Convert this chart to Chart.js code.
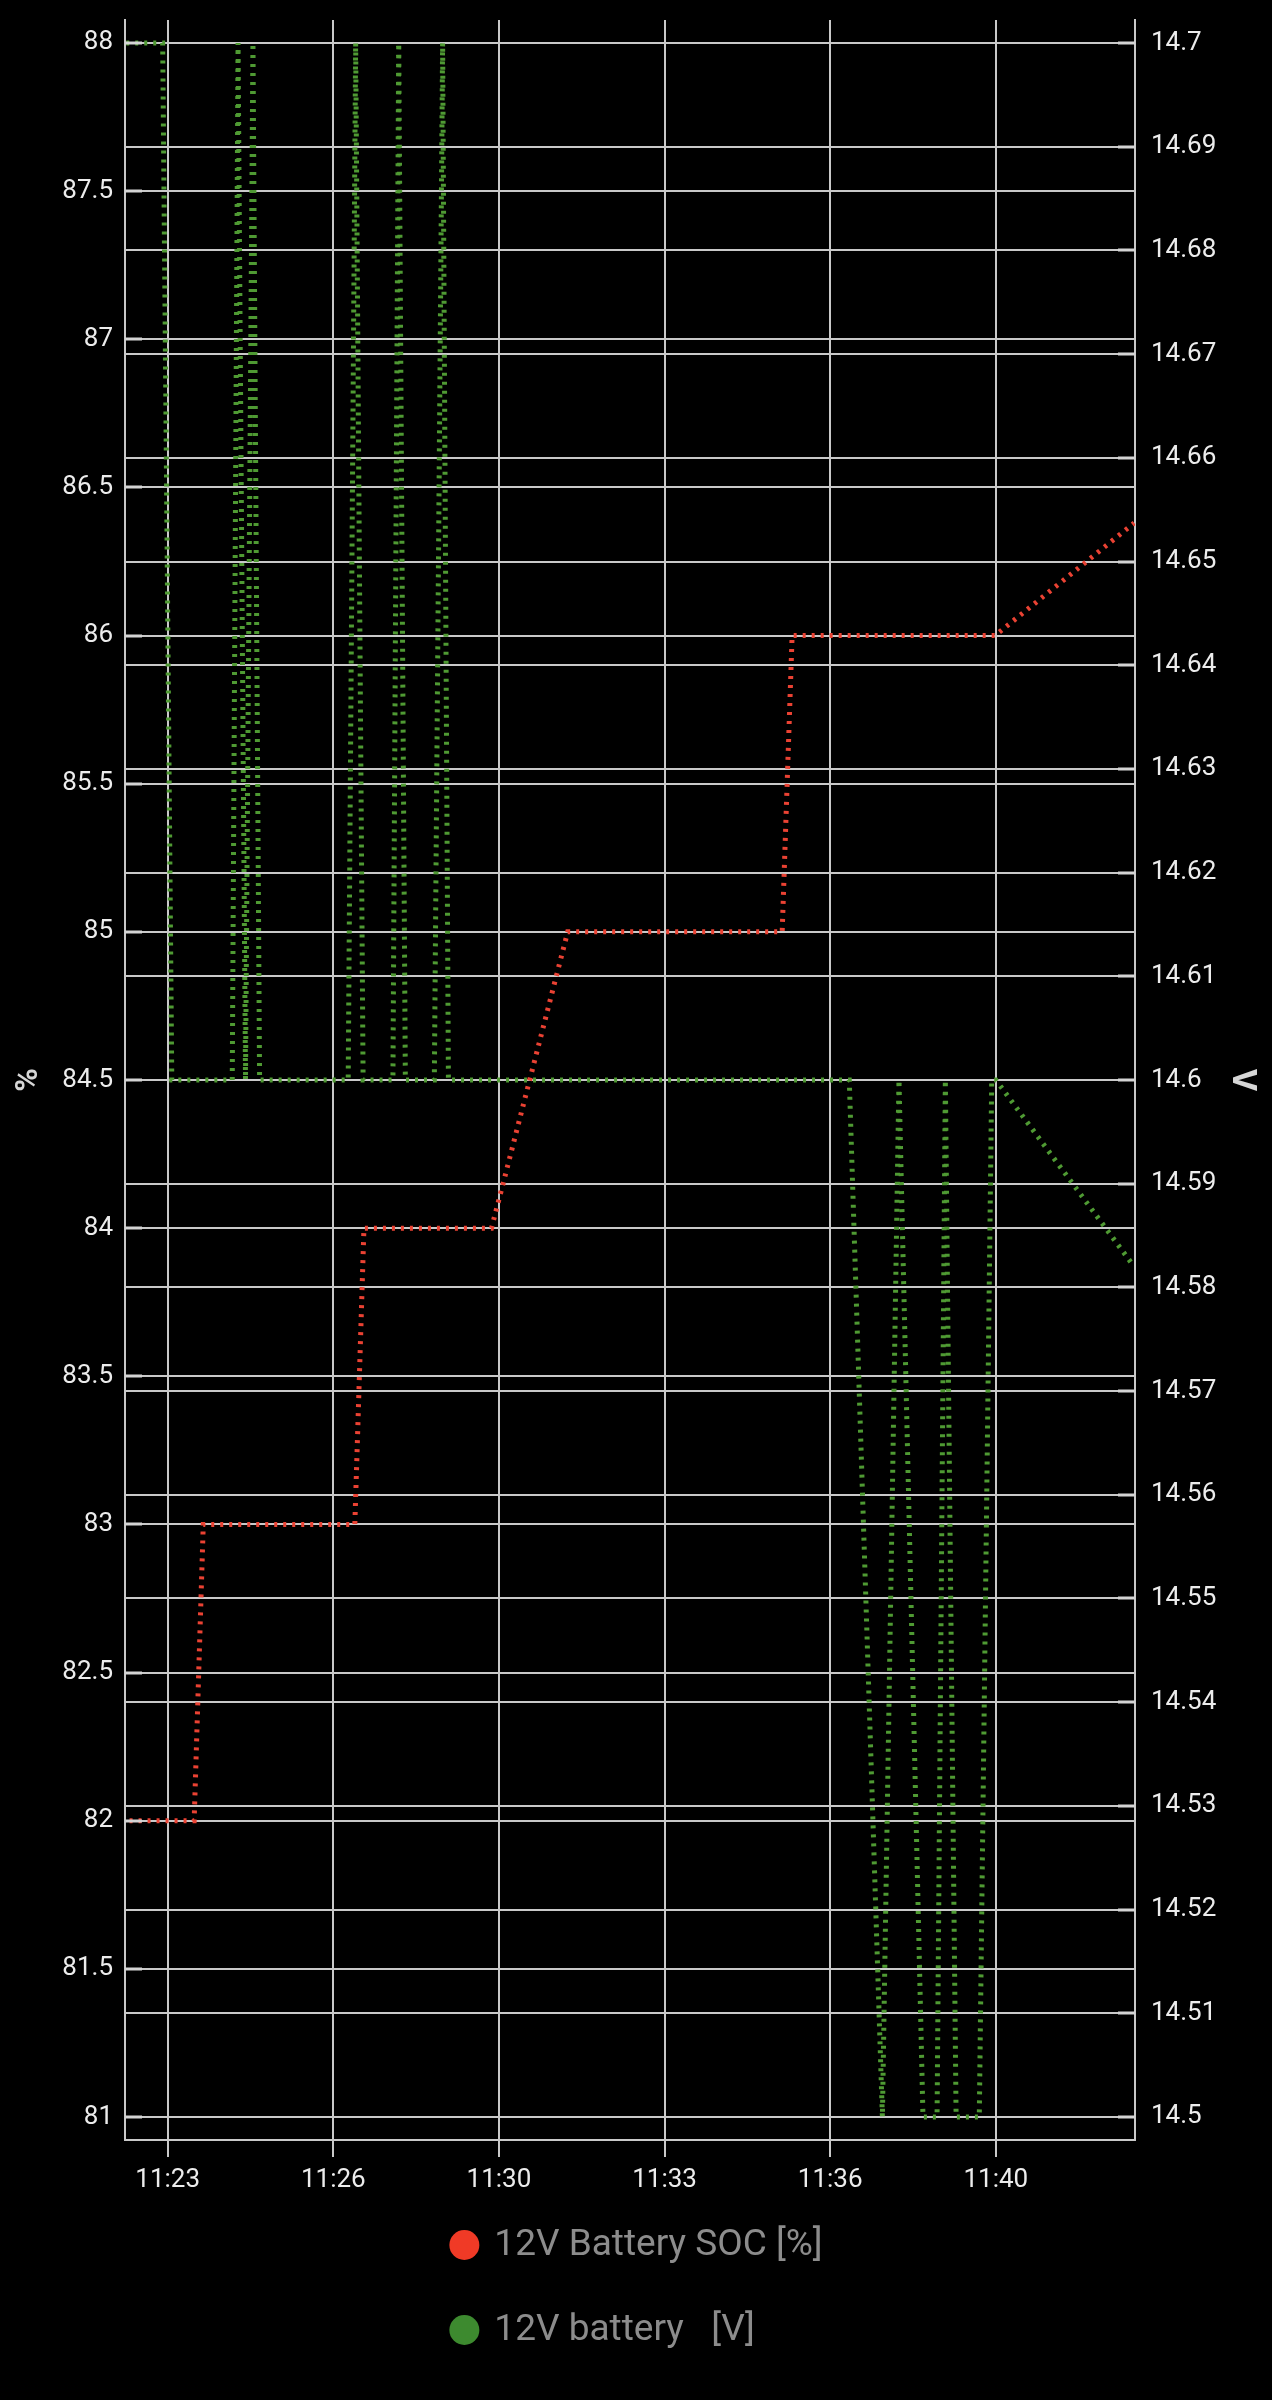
<!DOCTYPE html>
<html>
<head>
<meta charset="utf-8">
<script src="https://cdn.jsdelivr.net/npm/chart.js@4.4.1/dist/chart.umd.min.js"></script>
<style>
  html, body { margin: 0; padding: 0; background: #000; }
  #wrap { width: 1272px; height: 2400px; position: relative; }
</style>
</head>
<body>
<div id="wrap"><canvas id="c"></canvas></div>
<script>
// ---- Data ----
const SOC_LABEL = '12V Battery SOC [%]';
const SOC_TIMES = ['11:22:34','11:23:52','11:24:03','11:27:06','11:27:17','11:29:51','11:30:05','11:31:23','11:35:42','11:35:54','11:39:59','11:42:47'];
const SOC_VALUES = [82, 82, 83, 83, 84, 84, 84.15, 85, 85, 86, 86, 86.38];

const VOLT_LABEL = '12V battery   [V]';
const VOLT_TIMES = ['11:22:30','11:23:14','11:23:25','11:24:38','11:24:45','11:24:54','11:25:03','11:25:11',
                    '11:26:58','11:27:07','11:27:16','11:27:52','11:27:59','11:28:07','11:28:42','11:28:52','11:28:59',
                    '11:37:03','11:37:43','11:38:03','11:38:32','11:38:49','11:38:59','11:39:12','11:39:40','11:39:55','11:40:00','11:42:47'];
const VOLT_VALUES = [14.7, 14.7, 14.6, 14.6, 14.7, 14.6, 14.7, 14.6,
                     14.6, 14.7, 14.6, 14.6, 14.7, 14.6, 14.6, 14.7, 14.6,
                     14.6, 14.5, 14.6, 14.5, 14.5, 14.6, 14.5, 14.5, 14.6, 14.6, 14.582];

const X_TICK_TIMES = ['11:23:20','11:26:40','11:30:00','11:33:20','11:36:40','11:40:00'];
const X_TICK_LABELS = ['11:23','11:26','11:30','11:33','11:36','11:40'];
const SOC_TICKS = [81, 81.5, 82, 82.5, 83, 83.5, 84, 84.5, 85, 85.5, 86, 86.5, 87, 87.5, 88];
const VOLT_TICKS = [14.5, 14.51, 14.52, 14.53, 14.54, 14.55, 14.56, 14.57, 14.58, 14.59, 14.6,
                    14.61, 14.62, 14.63, 14.64, 14.65, 14.66, 14.67, 14.68, 14.69, 14.7];

// ---- Helpers ----
function toSec(t) { const p = t.split(':').map(Number); return p[0]*3600 + p[1]*60 + (p[2]||0); }
function pts(times, vals) { return times.map((t, i) => ({ x: toSec(t), y: vals[i] })); }
function noPad(s) { s.paddingTop = 0; s.paddingBottom = 0; s.paddingLeft = 0; s.paddingRight = 0; }

const RED = '#ea4233';
const GREEN = '#4f9a33';
const GRID = '#c9c9c9';
const TICK_COLOR = '#ececec';
const FONT = 'Roboto';

// short inward tick marks on both value axes
const innerTicks = {
  id: 'innerTicks',
  afterDatasetsDraw(chart) {
    const ctx = chart.ctx, a = chart.chartArea;
    ctx.save();
    ctx.strokeStyle = '#d4d4d4';
    ctx.lineWidth = 3;
    [['y', a.left, a.left + 17], ['y1', a.right - 17, a.right]].forEach(([id, x1, x2]) => {
      const s = chart.scales[id];
      s.ticks.forEach(t => {
        const y = Math.round(s.getPixelForValue(t.value));
        ctx.beginPath(); ctx.moveTo(x1, y); ctx.lineTo(x2, y); ctx.stroke();
      });
    });
    ctx.restore();
  }
};

const stackedLegend = {
  id: 'stackedLegend',
  afterDraw(chart) {
    const ctx = chart.ctx;
    const ds = chart.data.datasets;
    ctx.save();
    ctx.font = '37px ' + FONT;
    const r = 15, gap = 15, rowH = 85;
    const maxW = Math.max(...ds.map(d => ctx.measureText(d.label).width));
    const blockW = 2 * r + gap + maxW;
    const x0 = (chart.width - blockW) / 2;
    const y0 = chart.chartArea.bottom + 105;
    ds.forEach((d, i) => {
      const cy = y0 + i * rowH;
      ctx.beginPath();
      ctx.fillStyle = d.legendColor;
      ctx.arc(x0 + r, cy, r, 0, Math.PI * 2);
      ctx.fill();
      ctx.fillStyle = '#8c8c8c';
      ctx.textAlign = 'left';
      ctx.textBaseline = 'middle';
      ctx.fillText(d.label, x0 + 2 * r + gap, cy + 1);
    });
    ctx.restore();
  }
};

new Chart(document.getElementById('c'), {
  type: 'line',
  data: {
    datasets: [
      {
        label: SOC_LABEL,
        data: pts(SOC_TIMES, SOC_VALUES),
        yAxisID: 'y',
        borderColor: RED,
        legendColor: '#f03a26',
        borderWidth: 5,
        borderDash: [3, 6],
        pointRadius: 0,
        tension: 0,
        fill: false
      },
      {
        label: VOLT_LABEL,
        data: pts(VOLT_TIMES, VOLT_VALUES),
        yAxisID: 'y1',
        borderColor: GREEN,
        legendColor: '#3d8a2f',
        borderWidth: 5,
        borderDash: [3, 6],
        pointRadius: 0,
        tension: 0,
        fill: false
      }
    ]
  },
  options: {
    responsive: true,
    maintainAspectRatio: false,
    animation: false,
    events: [],
    layout: { padding: { left: 0, right: 0, top: 20, bottom: 170 } },
    plugins: {
      legend: { display: false },
      tooltip: { enabled: false }
    },
    scales: {
      x: {
        type: 'linear',
        position: 'bottom',
        min: toSec('11:22:28') + 0.5,
        max: toSec('11:42:48'),
        afterBuildTicks: s => { s.ticks = X_TICK_TIMES.map(t => ({ value: toSec(t) })); },
        afterFit: s => { s.height = 90; noPad(s); },
        ticks: {
          autoSkip: false,
          maxRotation: 0,
          padding: 8,
          color: TICK_COLOR,
          font: { family: FONT, size: 26 },
          callback: (v, i) => X_TICK_LABELS[i]
        },
        grid: { color: GRID, lineWidth: 2, drawTicks: true, tickLength: 17, tickColor: GRID },
        border: { display: true, color: GRID, width: 2 }
      },
      y: {
        type: 'linear',
        position: 'left',
        min: 80.9224,
        max: 88.0776,
        afterBuildTicks: s => { s.ticks = SOC_TICKS.map(v => ({ value: v })); },
        afterFit: s => { s.width = 125; noPad(s); },
        title: {
          display: true,
          text: '%',
          color: '#d6d6d6',
          font: { family: FONT, size: 32, weight: 'bold' },
          padding: { top: 10, bottom: 0 }
        },
        ticks: {
          autoSkip: false,
          padding: 12,
          color: TICK_COLOR,
          font: { family: FONT, size: 26 },
          callback: v => String(parseFloat(Number(v).toFixed(2)))
        },
        grid: { color: GRID, lineWidth: 2, drawTicks: false },
        border: { display: true, color: GRID, width: 2 }
      },
      y1: {
        type: 'linear',
        position: 'right',
        min: 14.49778,
        max: 14.70222,
        afterBuildTicks: s => { s.ticks = VOLT_TICKS.map(v => ({ value: v })); },
        afterFit: s => { s.width = 137; noPad(s); },
        title: {
          display: true,
          text: 'V',
          color: '#d6d6d6',
          font: { family: FONT, size: 34, weight: 'bold' },
          padding: { top: 10, bottom: 0 }
        },
        ticks: {
          autoSkip: false,
          padding: 16,
          color: TICK_COLOR,
          font: { family: FONT, size: 26 },
          callback: v => String(parseFloat(Number(v).toFixed(2)))
        },
        grid: { color: GRID, lineWidth: 2, drawTicks: false, drawOnChartArea: true },
        border: { display: true, color: GRID, width: 2 }
      }
    }
  },
  plugins: [innerTicks, stackedLegend]
});
</script>
</body>
</html>
